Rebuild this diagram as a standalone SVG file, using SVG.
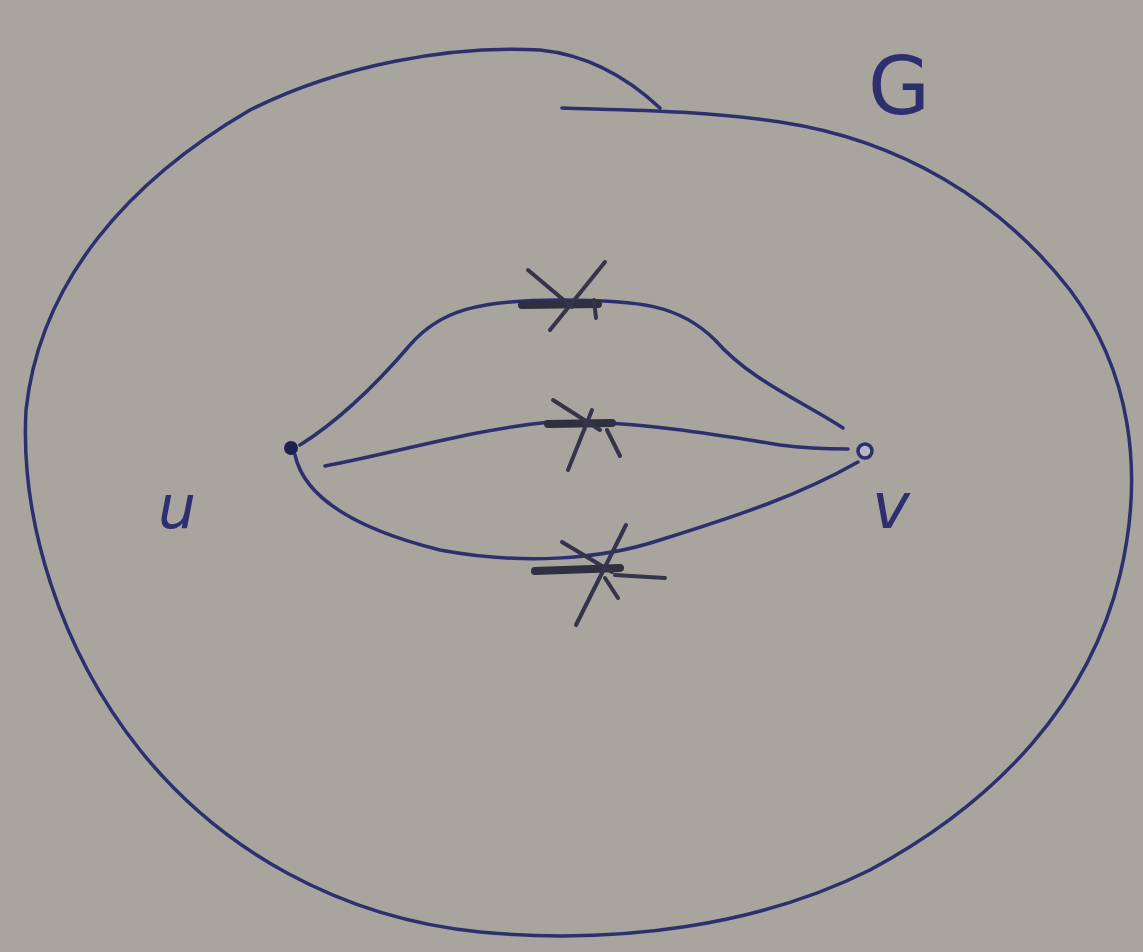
<svg xmlns="http://www.w3.org/2000/svg" width="1143" height="952" viewBox="0 0 1143 952">
<style>
.ink{fill:none;stroke:#2e2f6e;stroke-width:3.5;stroke-linecap:round;stroke-linejoin:round}
.cross{fill:none;stroke:#34344a;stroke-width:4;stroke-linecap:round}
.bar{fill:none;stroke:#2f2f3f;stroke-width:8;stroke-linecap:round}
.lbl{font-family:"DejaVu Sans",sans-serif;fill:#2e2f6e}
</style>
<rect width="1143" height="952" fill="#a8a59f"/>
<g id="G">
<path class="ink" d="M562 108 C620 110 700 110 780 122 C900 140 1000 200 1070 290 C1130 370 1145 470 1120 575 C1090 700 1000 800 870 870 C760 925 620 945 480 932 C340 918 220 850 140 750 C60 650 20 520 26 410 C40 280 130 180 250 110 C340 65 450 45 540 50 C590 55 630 80 660 108"/>
<text class="lbl" x="868" y="114" font-size="80">G</text>
</g>
<g id="connectors">
<path class="ink" d="M300 445 C340 420 380 380 410 345 C440 310 480 300 560 300 C640 300 680 305 715 340 C750 380 800 400 843 428"/>
<path class="ink" d="M325 466 C400 452 470 430 550 422 C630 420 720 435 780 445 C810 449 830 449 848 449"/>
<path class="ink" d="M295 455 C305 500 360 530 440 550 C520 565 600 560 660 540 C740 515 800 495 858 462"/>
<path class="bar" d="M522 305 L598 304"/>
<path class="cross" d="M528 270 L572 307 M605 262 L550 330 M594 300 L596 318"/>
<path class="bar" d="M548 424 L612 423"/>
<path class="cross" d="M553 400 L600 430 M592 410 L568 470 M607 430 L620 456"/>
<path class="bar" d="M535 571 L620 568"/>
<path class="cross" d="M562 542 L612 572 M626 525 L576 625 M615 575 L665 578 M605 578 L618 598"/>
</g>
<g id="u">
<circle cx="291" cy="448" r="7" fill="#1f2050"/>
<text class="lbl" x="158" y="528" font-size="60" font-style="italic">u</text>
</g>
<g id="v">
<circle cx="865" cy="451" r="7" fill="#b8b6c4" stroke="#2e2f6e" stroke-width="3.5"/>
<text class="lbl" x="872" y="528" font-size="64" font-style="italic">v</text>
</g>
</svg>
